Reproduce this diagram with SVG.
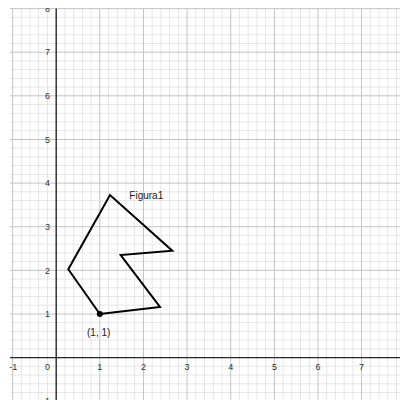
<svg xmlns="http://www.w3.org/2000/svg" width="400" height="400" viewBox="0 0 400 400">
<style>
.minor{stroke:#e6e6e6;stroke-width:1;fill:none}
.major{stroke:#c4c4c4;stroke-width:1;fill:none}
.axis{stroke:#262626;stroke-width:1.4;fill:none}
.num{font-family:"Liberation Sans",Arial,sans-serif;font-size:9px;fill:#333}
.lbl{font-family:"Liberation Sans",Arial,sans-serif;font-size:10px;fill:#222}
.shape{fill:none;stroke:#000;stroke-width:2;stroke-linejoin:miter}
</style>
<rect width="400" height="400" fill="#fff"/>
<g id="grid">
<path class="minor" d="M21.3 8.6V400M30 8.6V400M38.7 8.6V400M47.5 8.6V400M64.9 8.6V400M73.7 8.6V400M82.4 8.6V400M91.1 8.6V400M108.6 8.6V400M117.3 8.6V400M126 8.6V400M134.7 8.6V400M152.2 8.6V400M160.9 8.6V400M169.6 8.6V400M178.4 8.6V400M195.8 8.6V400M204.5 8.6V400M213.3 8.6V400M222 8.6V400M239.4 8.6V400M248.2 8.6V400M256.9 8.6V400M265.6 8.6V400M283.1 8.6V400M291.8 8.6V400M300.5 8.6V400M309.3 8.6V400M326.7 8.6V400M335.4 8.6V400M344.2 8.6V400M352.9 8.6V400M370.3 8.6V400M379.1 8.6V400M387.8 8.6V400M396.5 8.6V400
M10 392.5H400M10 383.8H400M10 375.1H400M10 366.3H400M10 348.9H400M10 340.1H400M10 331.4H400M10 322.7H400M10 305.2H400M10 296.5H400M10 287.8H400M10 279.1H400M10 261.6H400M10 252.9H400M10 244.2H400M10 235.4H400M10 218H400M10 209.3H400M10 200.5H400M10 191.8H400M10 174.4H400M10 165.6H400M10 156.9H400M10 148.2H400M10 130.7H400M10 122H400M10 113.3H400M10 104.5H400M10 87.1H400M10 78.4H400M10 69.6H400M10 60.9H400M10 43.5H400M10 34.8H400M10 26H400M10 17.3H400"/>
<path class="major" d="M12.6 8.6V400M99.8 8.6V400M143.5 8.6V400M187.1 8.6V400M230.7 8.6V400M274.4 8.6V400M318 8.6V400M361.6 8.6V400
M10 314H400M10 270.3H400M10 226.7H400M10 183.1H400M10 139.5H400M10 95.8H400M10 52.2H400M10 8.6H400"/>
</g>
<g id="axes">
<path class="axis" d="M10 357.6H400M56.2 8.6V400"/>
</g>
<g id="axis-labels" class="num">
<text x="13.3" y="369.8" text-anchor="middle">-1</text>
<text x="50" y="369.8" text-anchor="end">0</text>
<text x="99.8" y="369.8" text-anchor="middle">1</text>
<text x="143.5" y="369.8" text-anchor="middle">2</text>
<text x="187.1" y="369.8" text-anchor="middle">3</text>
<text x="230.7" y="369.8" text-anchor="middle">4</text>
<text x="274.4" y="369.8" text-anchor="middle">5</text>
<text x="318" y="369.8" text-anchor="middle">6</text>
<text x="361.6" y="369.8" text-anchor="middle">7</text>
<text x="50" y="404.4" text-anchor="end">-1</text>
<text x="50" y="317.2" text-anchor="end">1</text>
<text x="50" y="273.5" text-anchor="end">2</text>
<text x="50" y="229.9" text-anchor="end">3</text>
<text x="50" y="186.3" text-anchor="end">4</text>
<text x="50" y="142.7" text-anchor="end">5</text>
<text x="50" y="99" text-anchor="end">6</text>
<text x="50" y="55.4" text-anchor="end">7</text>
<text x="50" y="11.8" text-anchor="end">8</text>
</g>
<rect x="0" y="0" width="400" height="8" fill="#fff"/>
<g id="figura1">
<polygon class="shape" points="99.8,314 160,307 120.7,255 172.3,250.7 110,195 68.3,269.3"/>
<text class="lbl" x="129.3" y="198.5">Figura1</text>
</g>
<g id="point-A">
<circle cx="99.8" cy="314" r="3" fill="#000"/>
<text class="lbl" x="98.7" y="336" text-anchor="middle">(1, 1)</text>
</g>
<g id="connectors"/>
</svg>
